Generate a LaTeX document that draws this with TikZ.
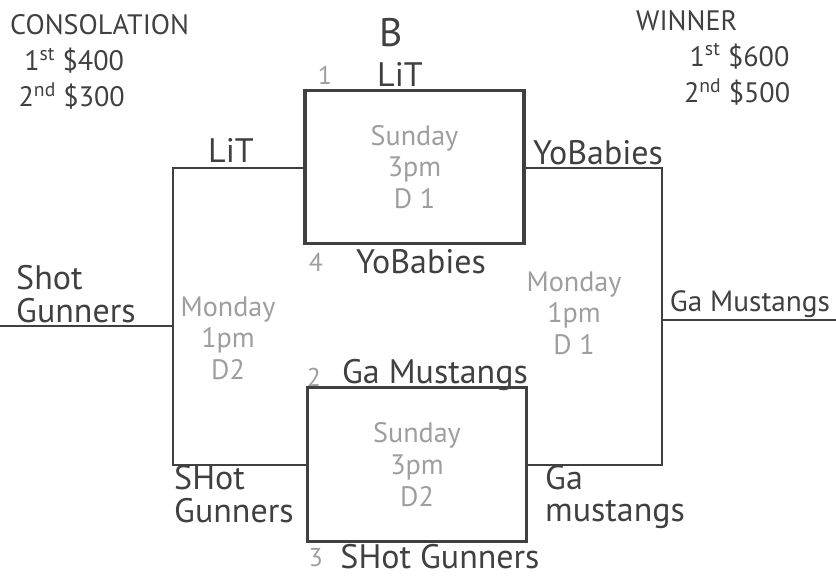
\documentclass[tikz,border=0pt]{standalone}
\usepackage{fontspec}
\setmainfont{PT Sans}
\definecolor{pen}{gray}{0.25}
\definecolor{pencil}{gray}{0.62}

\begin{document}
\begin{tikzpicture}[x=0.03cm, y=-0.03cm, every node/.style={text=pen, align=center, inner sep=0pt, font=\fontsize{29}{33}\selectfont},
    match/.style={draw=pen, line width=2.6pt, text=pencil, minimum width=6.57cm, minimum height=4.6cm, font=\fontsize{24}{27}\selectfont},
    slot/.style={text=pencil, font=\fontsize{24}{27}\selectfont},
    seed/.style={text=pencil, font=\fontsize{22}{24}\selectfont},
    pair/.style={align=left, anchor=west, font=\fontsize{29}{28}\selectfont},
    line/.style={draw=pen, line width=2.4pt}]
        \useasboundingbox (0,0) rectangle (836,579);

        \node (top) [match] at (414.5,167) {Sunday\\3pm\\D 1};
        \node (bot) [match] at (417,464.5) {Sunday\\3pm\\D2};

        \coordinate (tl) at (173,168);
        \coordinate (bl) at (173,465);
        \coordinate (tr) at (662,168);
        \coordinate (br) at (662,465);
        \coordinate (midL) at (173,326);
        \coordinate (midR) at (662,320);
        \coordinate (outL) at (0,326);
        \coordinate (outR) at (836,320);

        \draw[line] (top.west |- tl) -- (tl) -- (bl) -- (bot.west |- bl);
        \draw[line] (top.east |- tr) -- (tr) -- (br) -- (bot.east |- br);
        \draw[line] (outL) -- (midL);
        \draw[line] (midR) -- (outR);

        \node (monL) [slot] at (228,338) {Monday\\1pm\\D2};
        \node (monR) [slot] at (574,313) {Monday\\1pm\\D 1};

        \node (pool) [font=\fontsize{34}{36}\selectfont] at (391,33) {B};
        \node (s1) [seed] at (325,75) {1};
        \node (lit1) at (400,74) {LiT};
        \node (lit2) at (231,150) {LiT};
        \node (yob1) at (598,153) {YoBabies};
        \node (s4) [seed] at (316,262) {4};
        \node (yob2) at (421,262) {YoBabies};
        \node (s2) [seed] at (314,377) {2};
        \node (ga1) at (435,375) {Ga Mustangs};
        \node (s3) [seed] at (316,558) {3};
        \node (sg1) at (440,557) {SHot Gunners};
        \node (sg2) [pair] at (174,494) {SHot\\Gunners};
        \node (ga2) [pair] at (545,497) {Ga\\mustangs};
        \node (sg3) [pair] at (16,294) {Shot\\Gunners};
        \node (ga3) [font=\fontsize{25}{28}\selectfont] at (750,304) {Ga Mustangs};

        \node (cons) [anchor=north west, align=left, font=\fontsize{24}{31}\selectfont] at (10,14) {CONSOLATION\\
            \hspace{0.5em}1\textsuperscript{st} \$400\\ \hspace{0.3em}2\textsuperscript{nd} \$300};
        \node (win) [anchor=north west, align=left, font=\fontsize{24}{31}\selectfont] at (636,10) {WINNER\\
            \hspace{1.9em}1\textsuperscript{st} \$600\\ \hspace{1.7em}2\textsuperscript{nd} \$500};
    \end{tikzpicture}
\end{document}
